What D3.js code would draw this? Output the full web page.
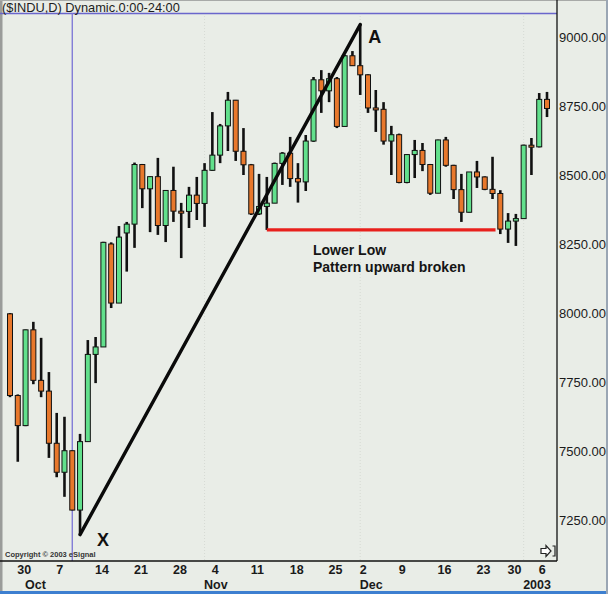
<!DOCTYPE html>
<html>
<head>
<meta charset="utf-8">
<script src="https://cdn.jsdelivr.net/npm/d3@7"></script>
<style>
  html, body { margin: 0; padding: 0; background: #e9ede7; }
  svg { display: block; }
</style>
</head>
<body>
<svg id="chart" width="608" height="594"></svg>
<script>
// ---- data (DJIA daily) ----
const dates = ["2002-09-27","2002-09-30","2002-10-01","2002-10-02","2002-10-03","2002-10-04","2002-10-07","2002-10-08","2002-10-09","2002-10-10","2002-10-11","2002-10-14","2002-10-15","2002-10-16","2002-10-17","2002-10-18","2002-10-21","2002-10-22","2002-10-23","2002-10-24","2002-10-25","2002-10-28","2002-10-29","2002-10-30","2002-10-31","2002-11-01","2002-11-04","2002-11-05","2002-11-06","2002-11-07","2002-11-08","2002-11-11","2002-11-12","2002-11-13","2002-11-14","2002-11-15","2002-11-18","2002-11-19","2002-11-20","2002-11-21","2002-11-22","2002-11-25","2002-11-26","2002-11-27","2002-11-29","2002-12-02","2002-12-03","2002-12-04","2002-12-05","2002-12-06","2002-12-09","2002-12-10","2002-12-11","2002-12-12","2002-12-13","2002-12-16","2002-12-17","2002-12-18","2002-12-19","2002-12-20","2002-12-23","2002-12-24","2002-12-26","2002-12-27","2002-12-30","2002-12-31","2003-01-02","2003-01-03","2003-01-06","2003-01-07"];
const opens  = [7997,7701,7592,7939,7756,7717,7528,7423,7501,7286,7534,7850,7877,8250,8036,8290,8322,8538,8450,8494,8317,8444,8369,8368,8427,8397,8517,8572,8678,8771,8586,8537,8359,8386,8398,8542,8579,8487,8475,8623,8845,8805,8849,8676,8932,8896,8863,8743,8738,8623,8646,8473,8574,8589,8538,8434,8627,8535,8447,8365,8511,8493,8448,8433,8304,8333,8342,8608,8602,8774];
const highs  = [8000,7705,7940,7968,7910,7786,7638,7624,7502,7562,7902,7913,8258,8256,8315,8330,8545,8540,8495,8562,8445,8530,8399,8457,8493,8543,8728,8685,8801,8772,8670,8540,8504,8493,8545,8583,8638,8543,8645,8855,8880,8870,8855,8935,8949,9045,8865,8808,8764,8678,8650,8575,8627,8616,8540,8628,8638,8537,8504,8510,8551,8495,8566,8445,8362,8359,8610,8634,8797,8801];
const lows   = [7695,7461,7590,7742,7695,7475,7405,7334,7285,7197,7534,7746,7877,8018,8036,8150,8236,8380,8293,8283,8257,8330,8199,8308,8337,8312,8515,8543,8587,8551,8500,8355,8355,8301,8398,8464,8457,8400,8442,8620,8725,8764,8670,8676,8895,8790,8725,8656,8610,8500,8470,8470,8489,8514,8428,8434,8530,8413,8330,8364,8453,8445,8413,8286,8254,8243,8342,8500,8600,8710];
const closes = [7701,7592,7939,7756,7717,7528,7423,7501,7286,7534,7850,7877,8256,8036,8275,8322,8538,8450,8494,8317,8444,8369,8368,8427,8397,8517,8572,8678,8771,8586,8537,8359,8386,8398,8542,8579,8487,8475,8623,8845,8805,8849,8676,8932,8896,8863,8743,8738,8623,8646,8473,8574,8589,8538,8434,8627,8535,8447,8365,8511,8493,8448,8433,8304,8333,8342,8608,8602,8774,8741];

const yTicks = [7250, 7500, 7750, 8000, 8250, 8500, 8750, 9000];
const dayTickDates = ["2002-09-30","2002-10-07","2002-10-14","2002-10-21","2002-10-28","2002-11-04","2002-11-11","2002-11-18","2002-11-25","2002-12-02","2002-12-09","2002-12-16","2002-12-23","2002-12-30","2003-01-06"];
const dayTickLabels = ["30","7","14","21","28","4","11","18","25","2","9","16","23","30","6"];
const monthTickDates = ["2002-10-01","2002-11-01","2002-12-02","2003-01-02"];
const monthTickLabels = ["Oct","Nov","Dec","2003"];

// annotations
const trendFrom = {date: "2002-10-10", value: 7197};
const trendTo   = {date: "2002-12-02", value: 9045};
const supportLine = {from: "2002-11-13", to: "2002-12-26", value: 8301};
const cursorDate = "2002-10-09";

// ---- layout ----
const svg = d3.select("#chart");
const W = 608, H = 594;
const plotLeft = 3, plotRight = 557, plotTop = 13, plotBottom = 561;

svg.append("rect").attr("x",0).attr("y",0).attr("width",W).attr("height",H).attr("fill","#e9ede7");
// frame decorations
svg.append("rect").attr("x",0).attr("y",0).attr("width",2.5).attr("height",H).attr("fill","#9a9c9a");
svg.append("rect").attr("x",0).attr("y",0).attr("width",W).attr("height",1).attr("fill","#a8aaa8");
svg.append("rect").attr("x",0).attr("y",591).attr("width",W).attr("height",3).attr("fill","#3d7fd0");
svg.append("rect").attr("x",606).attr("y",0).attr("width",2).attr("height",H).attr("fill","#9aa6b4");

const x = d3.scalePoint().domain(dates).range([10, 547]);
const y = d3.scaleLinear().domain([7250, 9000]).range([520, 37]);

// faint month grid lines
svg.append("g").selectAll("line").data(monthTickDates.slice(1)).join("line")
  .attr("x1", d => x(d)).attr("x2", d => x(d))
  .attr("y1", plotTop).attr("y2", plotBottom)
  .attr("stroke", "#d6dad4").attr("stroke-width", 1).attr("stroke-dasharray", "1,2");

// cursor lines (blue)
svg.append("line").attr("x1", 0).attr("x2", plotRight).attr("y1", 13.5).attr("y2", 13.5)
  .attr("stroke", "#6a66cc").attr("stroke-width", 1.3);
svg.append("line").attr("x1", x(cursorDate)).attr("x2", x(cursorDate)).attr("y1", 13).attr("y2", plotBottom)
  .attr("stroke", "#7a74d6").attr("stroke-width", 1.3);

// title
svg.append("text").attr("x", 2).attr("y", 12)
  .attr("font-family", "Liberation Sans, Arial, sans-serif").attr("font-size", 12.8)
  .attr("fill", "#1d1d1d").text("($INDU,D) Dynamic.0:00-24:00");

// axes lines
svg.append("line").attr("x1", plotRight).attr("x2", plotRight).attr("y1", 0).attr("y2", plotBottom)
  .attr("stroke", "#111").attr("stroke-width", 1.3);
svg.append("line").attr("x1", 0).attr("x2", plotRight).attr("y1", plotBottom).attr("y2", plotBottom)
  .attr("stroke", "#111").attr("stroke-width", 1.3);

// y axis
const yAxis = d3.axisRight(y).tickValues(yTicks).tickSize(0).tickPadding(2).tickFormat(d3.format(".2f"));
const gy = svg.append("g").attr("transform", `translate(${plotRight},0)`).call(yAxis);
gy.select(".domain").remove();
gy.selectAll("text").attr("font-family", "Liberation Sans, Arial, sans-serif").attr("font-size", 13)
  .attr("fill", "#1a1a1a");

// x axis: day labels
const xAxis = d3.axisBottom(x).tickValues(dayTickDates).tickSize(0).tickPadding(4)
  .tickFormat((d, i) => dayTickLabels[i]);
const gx = svg.append("g").attr("transform", `translate(0,${plotBottom})`).call(xAxis);
gx.select(".domain").remove();
gx.selectAll("text").attr("text-anchor", "start").attr("dx", -1)
  .attr("font-family", "Liberation Sans, Arial, sans-serif").attr("font-size", 12.5).attr("font-weight", "bold")
  .attr("fill", "#1a1a1a");

// month labels
const xAxisM = d3.axisBottom(x).tickValues(monthTickDates).tickSize(0).tickPadding(19)
  .tickFormat((d, i) => monthTickLabels[i]);
const gm = svg.append("g").attr("transform", `translate(0,${plotBottom})`).call(xAxisM);
gm.select(".domain").remove();
gm.selectAll("text").attr("text-anchor", "start").attr("dx", -1)
  .attr("font-family", "Liberation Sans, Arial, sans-serif").attr("font-size", 12.5).attr("font-weight", "bold")
  .attr("fill", "#1a1a1a");

// copyright
svg.append("text").attr("x", 5).attr("y", 557)
  .attr("font-family", "Liberation Sans, Arial, sans-serif").attr("font-size", 7.5).attr("font-weight", "bold")
  .attr("fill", "#333").text("Copyright © 2003 eSignal");

// small scroll icon bottom right
const ic = svg.append("g").attr("transform", "translate(541,545)");
ic.append("path").attr("d", "M0,3.5 H5 V0.5 L10,6 L5,11.5 V8.5 H0 Z").attr("fill", "#fff").attr("stroke", "#222").attr("stroke-width", 1.2);
ic.append("path").attr("d", "M11.5,1 H14 V11 H11.5").attr("fill", "none").attr("stroke", "#222").attr("stroke-width", 1.2);

// candles
const candles = d3.range(dates.length).map(i => ({d: dates[i], o: opens[i], h: highs[i], l: lows[i], c: closes[i]}));
const cg = svg.append("g");
cg.selectAll("line.wick").data(candles).join("line").attr("class", "wick")
  .attr("x1", d => x(d.d)).attr("x2", d => x(d.d))
  .attr("y1", d => y(d.h)).attr("y2", d => y(d.l))
  .attr("stroke", "#111").attr("stroke-width", 2.6);
cg.selectAll("rect.body").data(candles).join("rect").attr("class", "body")
  .attr("x", d => x(d.d) - 2.5).attr("width", 5)
  .attr("y", d => Math.min(y(d.o), y(d.c)))
  .attr("height", d => Math.max(2, Math.abs(y(d.o) - y(d.c))))
  .attr("fill", d => d.c >= d.o ? "#62e08c" : "#e8782c")
  .attr("stroke", "#111").attr("stroke-width", 1);

// trend line X -> A
svg.append("line")
  .attr("x1", x(trendFrom.date)).attr("y1", y(trendFrom.value))
  .attr("x2", x(trendTo.date)).attr("y2", y(trendTo.value))
  .attr("stroke", "#0a0a0a").attr("stroke-width", 3.4).attr("stroke-linecap", "round");

// red support line
svg.append("line")
  .attr("x1", x(supportLine.from)).attr("x2", x(supportLine.to) + 3)
  .attr("y1", y(supportLine.value)).attr("y2", y(supportLine.value))
  .attr("stroke", "#e8201c").attr("stroke-width", 3.2);

// labels
svg.append("text").attr("x", x(trendFrom.date) + 17).attr("y", 546)
  .attr("font-family", "Liberation Sans, Arial, sans-serif").attr("font-size", 18).attr("font-weight", "bold")
  .attr("fill", "#111").text("X");
svg.append("text").attr("x", x(trendTo.date) + 8).attr("y", 43)
  .attr("font-family", "Liberation Sans, Arial, sans-serif").attr("font-size", 18).attr("font-weight", "bold")
  .attr("fill", "#111").text("A");
svg.append("text").attr("x", 313).attr("y", 255)
  .attr("font-family", "Liberation Sans, Arial, sans-serif").attr("font-size", 14).attr("font-weight", "bold")
  .attr("fill", "#151515").text("Lower Low");
svg.append("text").attr("x", 313).attr("y", 272)
  .attr("font-family", "Liberation Sans, Arial, sans-serif").attr("font-size", 14).attr("font-weight", "bold")
  .attr("fill", "#151515").text("Pattern upward broken");
</script>
</body>
</html>
